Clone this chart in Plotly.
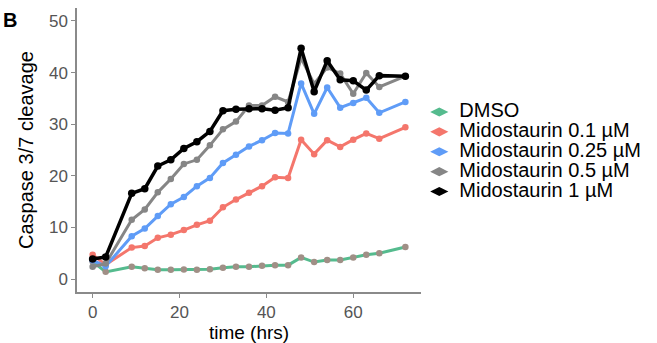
import plotly.graph_objects as go

times = [0, 3, 9, 12, 15, 18, 21, 24, 27, 30, 33, 36, 39, 42, 45, 48, 51, 54, 57, 60, 63, 66, 72]

series_names = ["DMSO", "Midostaurin 0.1 µM", "Midostaurin 0.25 µM",
                "Midostaurin 0.5 µM", "Midostaurin 1 µM"]

dmso = [3.4, 1.4, 2.4, 2.1, 1.8, 1.8, 1.85, 1.8, 1.9, 2.2, 2.4, 2.4, 2.6, 2.7, 2.7,
        4.2, 3.3, 3.7, 3.7, 4.2, 4.7, 5.0, 6.2]
mido_01 = [4.7, 2.8, 6.1, 6.4, 8.0, 8.6, 9.5, 10.5, 11.3, 13.9, 15.4, 16.7, 18.0, 19.7, 19.6,
           27.0, 24.2, 26.9, 25.6, 27.0, 28.2, 27.2, 29.4]
mido_025 = [3.6, 2.5, 8.3, 9.8, 12.2, 14.5, 15.9, 18.0, 19.6, 22.5, 24.1, 25.7, 26.9, 28.3, 28.2,
            37.9, 32.0, 37.1, 33.2, 34.1, 35.1, 32.2, 34.3]
mido_05 = [2.4, 3.0, 11.5, 13.5, 16.8, 19.4, 22.3, 23.1, 25.9, 29.0, 30.5, 33.6, 33.6, 35.3, 34.3,
           42.8, 37.8, 41.0, 39.8, 35.9, 39.9, 37.2, 39.3]
mido_1 = [3.9, 4.3, 16.6, 17.5, 21.9, 23.1, 25.3, 26.6, 28.6, 32.6, 32.9, 33.0, 33.0, 32.7, 33.2,
          44.7, 36.3, 42.3, 38.6, 38.4, 36.6, 39.4, 39.3]

values = [dmso, mido_01, mido_025, mido_05, mido_1]
line_colors = ["#55bb8e", "#f4766c", "#5f9cf7", "#868686", "#000000"]
marker_colors = ["#a08f86", "#f4766c", "#5f9cf7", "#868686", "#000000"]
line_widths = [3, 3, 3, 3, 3.5]
marker_sizes = [6.5, 6.5, 6.5, 6.5, 7.5]

x_ticks = [0, 20, 40, 60]
y_ticks = [0, 10, 20, 30, 40, 50]

FONT = "Liberation Sans, Arial, sans-serif"

fig = go.Figure()
for name, ys, lc, mc, lw, ms in zip(series_names, values, line_colors, marker_colors,
                                     line_widths, marker_sizes):
    fig.add_trace(go.Scatter(
        x=times, y=ys, mode="lines+markers", name=name, showlegend=False,
        line=dict(color=lc, width=lw),
        marker=dict(color=mc, size=ms),
    ))

# legend-only keys
for name, lc, mc in zip(series_names, line_colors, marker_colors):
    fig.add_trace(go.Scatter(
        x=[None], y=[None], mode="markers",
        name='<span style="font-size:20px">' + name + '</span>',
        marker=dict(color=lc, symbol="diamond-wide", size=13,
                    line=dict(color=mc, width=0)),
        showlegend=True,
    ))

fig.add_annotation(text="<b>B</b>", xref="paper", yref="paper",
                   x=-0.221, y=0.956, xanchor="left", yanchor="middle",
                   showarrow=False, font=dict(family=FONT, size=20, color="black"))

axis_common = dict(
    showgrid=False, zeroline=False, showline=True, linecolor="#8a8a8a", linewidth=1.5,
    ticks="outside", ticklen=4, tickwidth=1.3, tickcolor="#8a8a8a",
    tickfont=dict(family=FONT, size=17, color="#555555"),
)

fig.update_layout(
    width=657, height=343,
    margin=dict(l=77, r=236, t=8, b=51, pad=0),
    paper_bgcolor="white", plot_bgcolor="white",
    font=dict(family=FONT, color="black"),
    xaxis=dict(range=[-3.6, 75.6], tickvals=x_ticks,
               title=dict(text="time (hrs)", font=dict(family=FONT, size=19, color="black"),
                          standoff=8),
               **axis_common),
    yaxis=dict(range=[-2.5, 52.5], tickvals=y_ticks,
               title=dict(text="Caspase 3/7 cleavage",
                          font=dict(family=FONT, size=20, color="black"), standoff=10),
               **axis_common),
    legend=dict(x=0.995, xanchor="left", y=0.493, yanchor="middle",
                font=dict(family=FONT, size=13, color="black"),
                bgcolor="rgba(0,0,0,0)", itemwidth=30, tracegroupgap=0),
)
fig.update_xaxes(automargin=False)
fig.update_yaxes(automargin=False)

fig.write_html("out.html")
